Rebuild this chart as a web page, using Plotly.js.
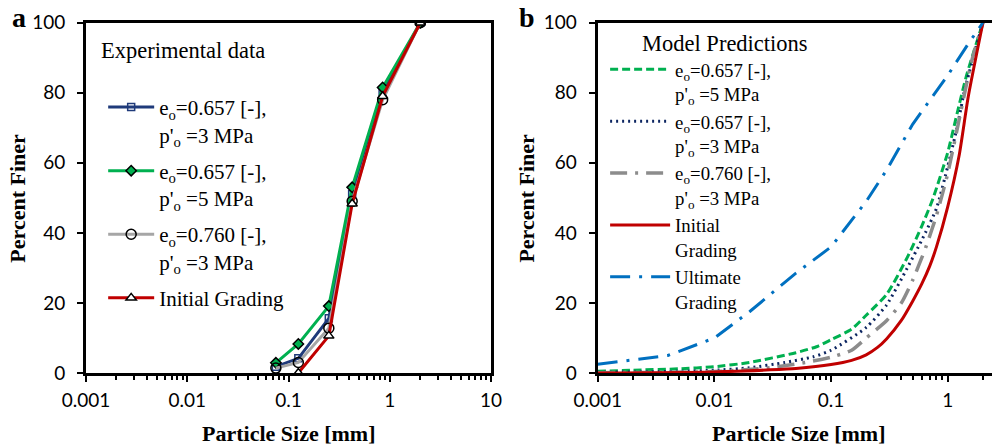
<!DOCTYPE html>
<html>
<head>
<meta charset="utf-8">
<script src="https://cdn.plot.ly/plotly-3.0.1.min.js"></script>
<style>html,body{margin:0;padding:0;background:#fff;}#chart{width:992px;height:448px;}</style>
</head>
<body>
<div id="chart"></div>
<script>
// ---------- Panel a: experimental data ----------
const sieveSizes = [0.075, 0.125, 0.25, 0.425, 0.85, 2.0];
const expE657P3 = [1.8, 4.2, 15.6, 51, 80, 100];
const expE657P5 = [2.9, 8.3, 19.1, 53, 81.5, 100];
const expE760P3 = [1.4, 3.0, 12.8, 49, 78, 100];
const initSizes = [0.125, 0.25, 0.425, 0.85, 2.0];
const initFiner = [0, 10.6, 48.3, 79, 100];

// ---------- Panel b: model predictions ----------
const modE657P5X = [0.001, 0.002, 0.005, 0.01, 0.02, 0.05, 0.075, 0.1, 0.15, 0.2, 0.3, 0.45, 0.6, 0.75, 1.0, 1.2, 1.45, 2.0];
const modE657P5Y = [0.5, 0.8, 1.2, 1.8, 3.0, 5.8, 7.5, 9.5, 12.5, 16.5, 22.5, 33, 42, 50, 63, 74, 85, 100];
const modE657P3X = [0.001, 0.005, 0.01, 0.02, 0.04, 0.07, 0.1, 0.2, 0.3, 0.45, 0.6, 0.8, 1.0, 1.2, 1.4, 2.0];
const modE657P3Y = [0.2, 0.5, 0.8, 1.5, 3.0, 4.6, 6.5, 13, 19.5, 30, 38, 47, 59, 70, 81, 100];
const modE760P3X = [0.001, 0.01, 0.03, 0.07, 0.1, 0.15, 0.2, 0.3, 0.4, 0.5, 0.65, 0.8, 1.0, 1.3, 1.6, 2.0];
const modE760P3Y = [0.1, 0.4, 1.5, 3.4, 4.5, 6.5, 10, 15, 20, 26.5, 36, 45, 57, 75, 89, 100];
const modInitX = [0.001, 0.01, 0.03, 0.05, 0.1, 0.15, 0.2, 0.25, 0.3, 0.4, 0.5, 0.6, 0.7, 0.8, 1.0, 1.25, 1.5, 2.0];
const modInitY = [0, 0.3, 0.9, 1.3, 2.4, 3.6, 5.2, 7.3, 9.8, 15, 20.5, 25.5, 30.5, 36, 47.5, 62, 79, 100];
const modUltX = [0.001, 0.002, 0.004, 0.01, 0.02, 0.05, 0.1, 0.2, 0.3, 0.5, 0.8, 1.0, 1.5, 2.0];
const modUltY = [2.5, 3.7, 5.0, 10, 17.5, 28.5, 36, 49, 58, 71, 80.5, 85, 94, 100];

// ---------- Axis ticks ----------
const xTickVals = [0.001, 0.01, 0.1, 1, 10];
const xTickText = ['0.001', '0.01', '0.1', '1', '10'];
const yTickVals = [0, 20, 40, 60, 80, 100];
const minorTickVals = [];
for (let e = -3; e <= 0; e++) {
  for (let m = 2; m <= 9; m++) minorTickVals.push(m * Math.pow(10, e));
}

const legendText = [
  "e<sub>o</sub>=0.657 [-],<br>p'<sub>o</sub> =3 MPa",
  "e<sub>o</sub>=0.657 [-],<br>p'<sub>o</sub> =5 MPa",
  "e<sub>o</sub>=0.760 [-],<br>p'<sub>o</sub> =3 MPa",
  "Initial Grading",
  "Initial<br>Grading",
  "Ultimate<br>Grading"
];

const navy = '#1f3a7a', green = '#00b050', gray = '#a6a6a6', red = '#c00000', blue = '#0070c0', dgray = '#8c8c8c';

const traces = [
  {x: sieveSizes, y: expE657P3, name: legendText[0], mode: 'lines+markers', legendgroup: 'a1',
   line: {color: navy, width: 3}, marker: {symbol: 'square-open', size: 7, color: navy, line: {width: 1.5}}},
  {x: sieveSizes, y: expE657P5, name: legendText[1], mode: 'lines+markers', legendgroup: 'a2',
   line: {color: green, width: 3}, marker: {symbol: 'diamond', size: 8, color: green, line: {color: 'black', width: 1.5}}},
  {x: sieveSizes, y: expE760P3, name: legendText[2], mode: 'lines+markers', legendgroup: 'a3',
   line: {color: gray, width: 3}, marker: {symbol: 'circle-open', size: 10, color: 'black', line: {width: 1.5}}},
  {x: initSizes, y: initFiner, name: legendText[3], mode: 'lines+markers', legendgroup: 'a4',
   line: {color: red, width: 3}, marker: {symbol: 'triangle-up', size: 9, color: 'white', line: {color: 'black', width: 1.5}}},

  {x: modE657P5X, y: modE657P5Y, name: legendText[1], mode: 'lines', xaxis: 'x2', yaxis: 'y2', legend: 'legend2',
   line: {color: green, width: 3, dash: '8px,4px', shape: 'spline', smoothing: 0.6}},
  {x: modE657P3X, y: modE657P3Y, name: legendText[0], mode: 'lines', xaxis: 'x2', yaxis: 'y2', legend: 'legend2',
   line: {color: '#0c2561', width: 3, dash: '2px,4px', shape: 'spline', smoothing: 0.6}},
  {x: modE760P3X, y: modE760P3Y, name: legendText[2], mode: 'lines', xaxis: 'x2', yaxis: 'y2', legend: 'legend2',
   line: {color: dgray, width: 3.5, dash: '17px,8px,3px,8px', shape: 'spline', smoothing: 0.6}},
  {x: modInitX, y: modInitY, name: legendText[4], mode: 'lines', xaxis: 'x2', yaxis: 'y2', legend: 'legend2',
   line: {color: red, width: 3, shape: 'spline', smoothing: 0.6}},
  {x: modUltX, y: modUltY, name: legendText[5], mode: 'lines', xaxis: 'x2', yaxis: 'y2', legend: 'legend2',
   line: {color: blue, width: 3, dash: '20px,9px,3px,9px'}}
];

const tickFont = {family: 'Lato, sans-serif', size: 19, color: 'black'};
const titleFont = {family: 'Liberation Serif, serif', size: 22, color: 'black', weight: 'bold'};
const legFont = {family: 'Liberation Serif, serif', size: 21, color: 'black'};
const legFont2 = {family: 'Liberation Serif, serif', size: 18.8, color: 'black'};
const legTitleFont = {family: 'Liberation Serif, serif', size: 22.5, color: 'black'};

function xAx(domain, range, mirror) {
  return {type: 'log', domain: domain, range: range, tickmode: 'array', tickvals: xTickVals, ticktext: xTickText,
    ticks: 'outside', ticklen: 6, tickwidth: 2, tickcolor: 'black', showline: true, linewidth: 3, linecolor: 'black',
    mirror: mirror, showgrid: false, zeroline: false, tickfont: tickFont, ticklabelstandoff: 2,
    minor: {tickmode: 'array', tickvals: minorTickVals, ticks: 'outside', ticklen: 4, tickwidth: 2, tickcolor: 'black', showgrid: false}};
}
function yAx(domain, mirror, anchor) {
  return {domain: domain, range: [0, 100], tickmode: 'array', tickvals: yTickVals, anchor: anchor,
    ticks: 'outside', ticklen: 6, tickwidth: 2, tickcolor: 'black', showline: true, linewidth: 3, linecolor: 'black',
    mirror: mirror, showgrid: false, zeroline: false, tickfont: tickFont, ticklabelstandoff: 8};
}

const yDom = [0.1674, 0.9493];
const layout = {
  width: 992, height: 448,
  margin: {l: 0, r: 0, t: 0, b: 0},
  paper_bgcolor: 'white', plot_bgcolor: 'white',
  showlegend: true,
  xaxis: Object.assign(xAx([0.0867, 0.495], [-3, 1], true), {anchor: 'y'}),
  yaxis: yAx(yDom, true, 'x'),
  xaxis2: Object.assign(xAx([0.6025, 1.0], [-3, 0.379], true), {anchor: 'y2'}),
  yaxis2: yAx(yDom, false, 'x2'),
  legend: {x: 0.104, y: 0.806, xanchor: 'left', yanchor: 'top', font: legFont, valign: 'top',
    bgcolor: 'rgba(0,0,0,0)', itemwidth: 46, tracegroupgap: 6, traceorder: 'grouped'},
  legend2: {x: 0.61, y: 0.887, xanchor: 'left', yanchor: 'top', font: legFont2, valign: 'top',
    bgcolor: 'rgba(0,0,0,0)', itemwidth: 60, traceorder: 'normal'},
  annotations: [
    {text: 'a', x: 0.019, y: 0.96, xref: 'paper', yref: 'paper', showarrow: false, xanchor: 'center', yanchor: 'middle',
     font: {family: 'Liberation Serif, serif', size: 28, color: 'black', weight: 'bold'}},
    {text: 'b', x: 0.531, y: 0.96, xref: 'paper', yref: 'paper', showarrow: false, xanchor: 'center', yanchor: 'middle',
     font: {family: 'Liberation Serif, serif', size: 28, color: 'black', weight: 'bold'}},
    {text: 'Experimental data', x: 0.1, y: 0.888, xref: 'paper', yref: 'paper', showarrow: false, xanchor: 'left', yanchor: 'middle', font: legTitleFont},
    {text: 'Model Predictions', x: 0.645, y: 0.904, xref: 'paper', yref: 'paper', showarrow: false, xanchor: 'left', yanchor: 'middle', font: legTitleFont},
    {text: 'Percent Finer', x: 0.018, y: 0.5584, xref: 'paper', yref: 'paper', showarrow: false, textangle: -90, xanchor: 'center', yanchor: 'middle', font: titleFont},
    {text: 'Percent Finer', x: 0.531, y: 0.5584, xref: 'paper', yref: 'paper', showarrow: false, textangle: -90, xanchor: 'center', yanchor: 'middle', font: titleFont},
    {text: 'Particle Size [mm]', x: 0.2908, y: 0.033, xref: 'paper', yref: 'paper', showarrow: false, xanchor: 'center', yanchor: 'middle', font: titleFont},
    {text: 'Particle Size [mm]', x: 0.805, y: 0.033, xref: 'paper', yref: 'paper', showarrow: false, xanchor: 'center', yanchor: 'middle', font: titleFont}
  ]
};

Plotly.newPlot('chart', traces, layout, {displayModeBar: false, staticPlot: true});
</script>
</body>
</html>
